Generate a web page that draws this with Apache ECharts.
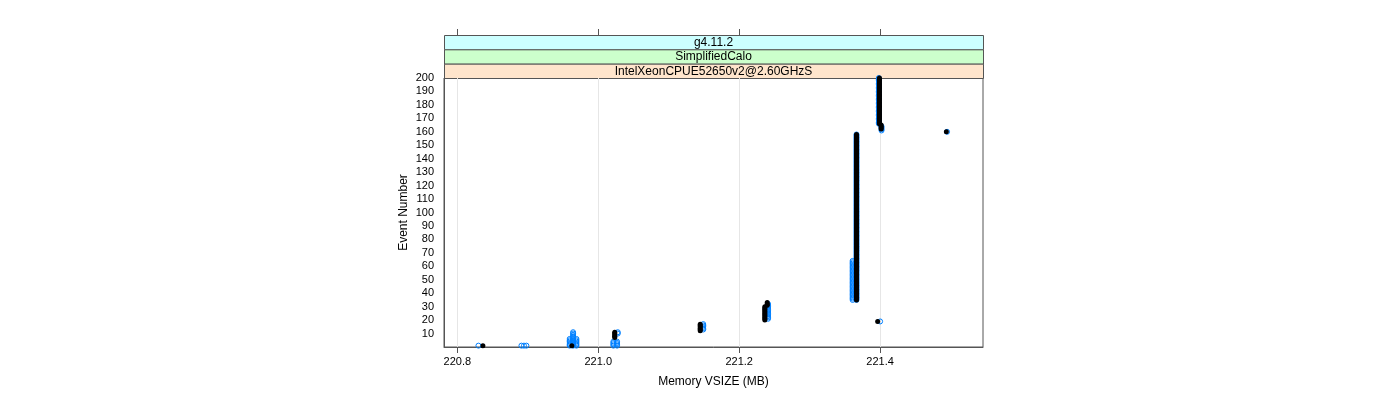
<!DOCTYPE html>
<html><head><meta charset="utf-8">
<script src="https://cdn.jsdelivr.net/npm/echarts@6/dist/echarts.min.js"></script>
<style>html,body{margin:0;padding:0;background:#fff}#c{width:1400px;height:400px}</style>
</head><body><div id="c"></div>
<script>
// ---- data ----
const xTickValues = [220.8, 221.0, 221.2, 221.4];
const stripLabels = ['g4.11.2', 'SimplifiedCalo', 'IntelXeonCPUE52650v2@2.60GHzS'];
const stripColors = ['#ccffff', '#ccffcc', '#ffe5cc'];
const xTitle = 'Memory VSIZE (MB)';
const yTitle = 'Event Number';

// black filled points: memory value and the event numbers at that value
const blackVsize = [220.8363, 220.9625, 221.0234, 221.1447, 221.2364, 221.2398, 221.3665, 221.3965, 221.3990, 221.4015, 221.4940];
const blackEvents = [
  [1],
  [1],
  [7, 8, 9, 10, 11],
  [12, 13, 14, 15, 16, 17],
  [20, 21, 22, 23, 24, 25, 26, 27, 28, 29, 30],
  [31, 32, 33],
  [35, 36, 37, 38, 39, 40, 41, 42, 43, 44, 45, 46, 47, 48, 49, 50, 51, 52, 53, 54, 55, 56, 57, 58, 59, 60,
   61, 62, 63, 64, 65, 66, 67, 68, 69, 70, 71, 72, 73, 74, 75, 76, 77, 78, 79, 80, 81, 82, 83, 84, 85, 86,
   87, 88, 89, 90, 91, 92, 93, 94, 95, 96, 97, 98, 99, 100, 101, 102, 103, 104, 105, 106, 107, 108, 109, 110,
   111, 112, 113, 114, 115, 116, 117, 118, 119, 120, 121, 122, 123, 124, 125, 126, 127, 128, 129, 130, 131,
   132, 133, 134, 135, 136, 137, 138, 139, 140, 141, 142, 143, 144, 145, 146, 147, 148, 149, 150, 151, 152,
   153, 154, 155, 156, 157, 158],
  [19],
  [166, 167, 168, 169, 170, 171, 172, 173, 174, 175, 176, 177, 178, 179, 180, 181, 182, 183, 184, 185, 186,
   187, 188, 189, 190, 191, 192, 193, 194, 195, 196, 197, 198, 199, 200],
  [162, 163, 164, 165],
  [160]
];

// blue open points
const blueVsize = [220.8300, 220.8910, 220.8946, 220.8980, 220.9595, 220.9643, 220.9690, 221.0215, 221.0267, 221.0277,
  221.1490, 221.2410, 221.3610, 221.3665, 221.3982, 221.4000, 221.4020, 221.4950];
const blueEvents = [
  [1],
  [1],
  [1],
  [1],
  [1, 2, 3, 4, 5, 6],
  [1, 2, 3, 4, 5, 6, 7, 8, 9, 10, 11],
  [1, 2, 3, 4, 5, 6],
  [1, 2, 3, 4],
  [1, 2, 3, 4],
  [10, 11],
  [13, 14, 15, 16, 17],
  [21, 22, 23, 24, 25, 26, 27, 28, 29, 30, 31, 32],
  [35, 36, 37, 38, 39, 40, 41, 42, 43, 44, 45, 46, 47, 48, 49, 50, 51, 52, 53, 54, 55, 56, 57, 58, 59, 60, 61, 62, 63, 64],
  [35, 36, 37, 38, 39, 40, 41, 42, 43, 44, 45, 46, 47, 48, 49, 50, 51, 52, 53, 54, 55, 56, 57, 58, 59, 60,
   61, 62, 63, 64, 65, 66, 67, 68, 69, 70, 71, 72, 73, 74, 75, 76, 77, 78, 79, 80, 81, 82, 83, 84, 85, 86,
   87, 88, 89, 90, 91, 92, 93, 94, 95, 96, 97, 98, 99, 100, 101, 102, 103, 104, 105, 106, 107, 108, 109, 110,
   111, 112, 113, 114, 115, 116, 117, 118, 119, 120, 121, 122, 123, 124, 125, 126, 127, 128, 129, 130, 131,
   132, 133, 134, 135, 136, 137, 138, 139, 140, 141, 142, 143, 144, 145, 146, 147, 148, 149, 150, 151, 152,
   153, 154, 155, 156, 157, 158],
  [166, 167, 168, 169, 170, 171, 172, 173, 174, 175, 176, 177, 178, 179, 180, 181, 182, 183, 184, 185, 186,
   187, 188, 189, 190, 191, 192, 193, 194, 195, 196, 197, 198, 199, 200],
  [19],
  [161, 162, 163, 164],
  [160]
];

// ---- build ----
function toPoints(vs, evs) {
  const out = [];
  vs.forEach((v, i) => evs[i].forEach(e => out.push([v, e])));
  return out;
}
const FONT = 'Liberation Sans, Arial, Helvetica, sans-serif';
const GL = 444, GT = 78, GW = 539, GH = 269;
const frameColor = '#555';

const chart = echarts.init(document.getElementById('c'), null, {renderer: 'canvas'});

const stripH = 14.33;
const graphics = [];
stripLabels.forEach((lab, i) => {
  const y = GT - stripH * (stripLabels.length - i);
  graphics.push({
    type: 'rect', left: GL, top: y, silent: true,
    shape: {x: 0, y: 0, width: GW, height: stripH},
    style: {fill: stripColors[i], stroke: frameColor, lineWidth: 1}
  });
  graphics.push({
    type: 'text', silent: true, x: GL + GW / 2, y: y + stripH / 2 + 0.5,
    style: {text: lab, font: '12px ' + FONT, fill: '#000', align: 'center', verticalAlign: 'middle'}
  });
});

const xCommon = {
  type: 'value', min: 220.7811, max: 221.546,
  splitLine: {show: false}
};

chart.setOption({
  animation: false,
  backgroundColor: '#fff',
  grid: {left: GL, top: GT, width: GW, height: GH, show: true, borderColor: frameColor, borderWidth: 1, backgroundColor: 'transparent'},
  xAxis: [
    Object.assign({}, xCommon, {
      position: 'bottom',
      name: xTitle, nameLocation: 'middle', nameGap: 29,
      nameTextStyle: {fontFamily: FONT, fontSize: 12, color: '#000'},
      axisLine: {show: true, lineStyle: {color: frameColor}},
      axisTick: {show: true, length: 6, lineStyle: {color: frameColor}, customValues: xTickValues},
      axisLabel: {show: true, margin: 9, fontFamily: FONT, fontSize: 11, color: '#000',
        customValues: xTickValues, formatter: v => Number(v).toFixed(1)}
    }),
    Object.assign({}, xCommon, {
      position: 'top', offset: GT - (GT - 3 * stripH),
      axisLine: {show: false},
      axisTick: {show: true, length: 6, lineStyle: {color: frameColor}, customValues: xTickValues},
      axisLabel: {show: false}
    })
  ],
  yAxis: {
    type: 'value', min: 0, max: 200, interval: 10,
    name: yTitle, nameLocation: 'middle', nameGap: 34, nameRotate: 90,
    nameTextStyle: {fontFamily: FONT, fontSize: 12, color: '#000'},
    axisLine: {show: true, lineStyle: {color: frameColor}},
    axisTick: {show: false},
    splitLine: {show: false},
    axisLabel: {margin: 10, fontFamily: FONT, fontSize: 11, color: '#000',
      formatter: v => (v === 0 ? '' : String(v))}
  },
  graphic: graphics,
  series: [
    {
      type: 'scatter', name: 'grid', data: [], z: 0, silent: true,
      markLine: {
        z: 0, silent: true, symbol: ['none', 'none'], label: {show: false},
        lineStyle: {color: '#e6e6e6', type: 'solid', width: 1},
        data: xTickValues.map(v => ({xAxis: v}))
      }
    },
    {
      type: 'scatter', name: 'blue', z: 2, clip: true,
      symbol: 'circle', symbolSize: 5,
      itemStyle: {color: 'rgba(0,0,0,0)', borderColor: '#0080ff', borderWidth: 1, opacity: 1},
      data: toPoints(blueVsize, blueEvents)
    },
    {
      type: 'scatter', name: 'black', z: 3, clip: true,
      symbol: 'circle', symbolSize: 5,
      itemStyle: {color: '#000', opacity: 1},
      data: toPoints(blackVsize, blackEvents)
    }
  ]
});
</script>
</body></html>
